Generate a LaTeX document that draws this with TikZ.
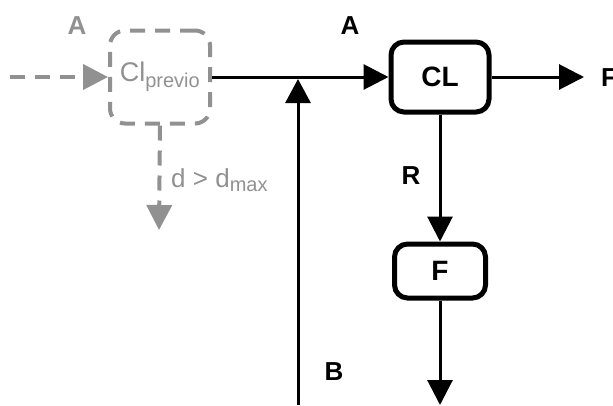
\documentclass[tikz,border=0pt]{standalone}
\usepackage{fontspec}
\setmainfont{Liberation Sans}
\usetikzlibrary{arrows.meta}
\definecolor{gry}{RGB}{145,145,145}
\begin{document}
\begin{tikzpicture}[x=1pt,y=-1pt,
  box/.style={draw=black,line width=5pt,rounded corners=13pt,fill=white,
    font=\fontsize{28}{30}\selectfont\bfseries},
  oldbox/.style={draw=gry,line width=4pt,rounded corners=15pt,
    dash pattern=on 15pt off 10pt,text=gry,font=\fontsize{27}{29}\selectfont},
  conn/.style={line width=3pt,-{Triangle[length=25pt,width=25pt]}},
  oldconn/.style={draw=gry,line width=4pt,dash pattern=on 15pt off 10pt,
    -{Triangle[length=25pt,width=25pt]}},
  lbl/.style={font=\fontsize{26}{28}\selectfont\bfseries,inner sep=0pt},
  oldlbl/.style={lbl,text=gry}]
\useasboundingbox (0,0) rectangle (613,405);

% nodes
\node[oldbox,minimum width=100pt,minimum height=93pt,inner sep=0pt] (prev) at (160,77)
  {Cl\textsubscript{\fontsize{20}{22}\selectfont previo}};
\node[box,minimum width=98pt,minimum height=70pt,inner sep=0pt] (CL) at (440,77) {CL};
\node[box,minimum width=91pt,minimum height=54pt,inner sep=0pt] (F) at (440,271) {F};

% free ends
\coordinate (in) at (10,77);
\coordinate (drop) at (159,230);
\coordinate (outF) at (584,77);
\coordinate (outB) at (440,405);
\coordinate (bstart) at (298,405);
\coordinate (join) at (298,79);

% connectors
\draw[oldconn] (in) -- (prev.west);
\draw[oldconn] (prev.south) -- (drop);
\draw[conn] (prev.east) -- (CL.west);
\draw[conn] (CL.east) -- (outF);
\draw[conn] (CL.south) -- (F.north);
\draw[conn] (F.south) -- (outB);
\draw[line width=3pt,-{Triangle[length=24pt,width=25pt]}] (bstart) -- (join);

% labels
\node[oldlbl] (lA0) at (77,26) {A};
\node[lbl] (lA) at (350,26) {A};
\node[lbl] (lR) at (411,176) {R};
\node[lbl] (lB) at (334,372) {B};
\node[lbl,anchor=west] (lF) at (601,78) {F};
\node[text=gry,anchor=west,inner sep=0pt,font=\fontsize{26}{28}\selectfont] (dmax) at (171,180)
  {d > d\textsubscript{\fontsize{20}{22}\selectfont max}};
\end{tikzpicture}
\end{document}
